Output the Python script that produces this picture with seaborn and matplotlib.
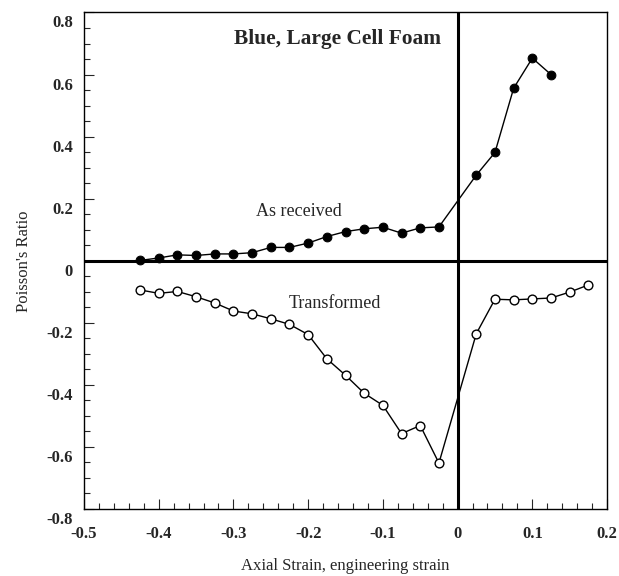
import matplotlib
matplotlib.use("Agg")
import matplotlib.pyplot as plt
import matplotlib.transforms as mtransforms
import seaborn as sns
import pandas as pd
from matplotlib.ticker import MultipleLocator

# As received (filled circles)
recv_x = [-0.425, -0.4, -0.375, -0.35, -0.325, -0.3, -0.275, -0.25, -0.225, -0.2,
          -0.175, -0.15, -0.125, -0.1, -0.075, -0.05, -0.025,
          0.025, 0.05, 0.075, 0.1, 0.125]
recv_y = [0.001, 0.009, 0.019, 0.017, 0.022, 0.022, 0.026, 0.043, 0.043, 0.057,
          0.078, 0.094, 0.103, 0.108, 0.089, 0.106, 0.109,
          0.276, 0.349, 0.556, 0.653, 0.600]

# Transformed (open circles)
trans_x = [-0.425, -0.4, -0.375, -0.35, -0.325, -0.3, -0.275, -0.25, -0.225, -0.2,
           -0.175, -0.15, -0.125, -0.1, -0.075, -0.05, -0.025,
           0.025, 0.05, 0.075, 0.1, 0.125, 0.15, 0.175]
trans_y = [-0.094, -0.105, -0.099, -0.116, -0.136, -0.162, -0.171, -0.187, -0.205, -0.238,
           -0.316, -0.369, -0.427, -0.466, -0.557, -0.531, -0.652,
           -0.235, -0.124, -0.126, -0.123, -0.120, -0.101, -0.078]

xticks = [-0.5, -0.4, -0.3, -0.2, -0.1, 0, 0.1, 0.2]
xtick_labels = ["-0.5", "-0.4", "-0.3", "-0.2", "-0.1", "0", "0.1", "0.2"]
yticks = [-0.8, -0.6, -0.4, -0.2, 0, 0.2, 0.4, 0.6, 0.8]
ytick_labels = ["-0.8", "-0.6", "-0.4", "-0.2", "0", "0.2", "0.4", "0.6", "0.8"]

sns.set_style("ticks")
plt.rcParams['font.family'] = ['Liberation Serif', 'DejaVu Serif']
plt.rcParams['axes.unicode_minus'] = False

fig = plt.figure(figsize=(6.19, 5.76), dpi=100)
ax = fig.add_axes([0.1357, 0.1163, 0.845, 0.862])

df_recv = pd.DataFrame({'x': recv_x, 'y': recv_y})
df_trans = pd.DataFrame({'x': trans_x, 'y': trans_y})

# thick zero lines
ax.axhline(0, color='black', lw=2.2, zorder=1)
ax.axvline(0, color='black', lw=2.2, zorder=1)

sns.lineplot(data=df_recv, x='x', y='y', ax=ax, sort=False, estimator=None,
             color='black', lw=1, marker='o', markersize=6.3,
             markerfacecolor='black', markeredgecolor='black', zorder=3)
sns.lineplot(data=df_trans, x='x', y='y', ax=ax, sort=False, estimator=None,
             color='black', lw=1, marker='o', markersize=6.3,
             markerfacecolor='white', markeredgecolor='black', markeredgewidth=1, zorder=3)

ax.set_xlim(-0.5, 0.2)
ax.set_ylim(-0.8, 0.8)
ax.set_xticks(xticks)
ax.set_xticklabels(xtick_labels, fontsize=12, fontweight='bold')
ax.set_yticks(yticks)
ax.set_yticklabels(ytick_labels, fontsize=12, fontweight='bold')
ax.xaxis.set_minor_locator(MultipleLocator(0.02))
ax.yaxis.set_minor_locator(MultipleLocator(0.05))
ax.tick_params(which='major', direction='in', length=7, width=0.8)
ax.tick_params(which='minor', direction='in', length=4, width=0.8)
ax.tick_params(axis='x', which='major', pad=12)
ax.tick_params(axis='y', which='major', pad=8)

# y tick labels sit a little below their ticks in the original
shift = mtransforms.ScaledTranslation(0, -0.09, fig.dpi_scale_trans)
for lbl in ax.get_yticklabels():
    lbl.set_transform(lbl.get_transform() + shift)

for s in ax.spines.values():
    s.set_linewidth(1)
    s.set_color('black')

ax.set_xlabel("Axial Strain, engineering strain", fontsize=12, labelpad=12)
ax.set_ylabel("Poisson's Ratio", fontsize=12, labelpad=10)

ax.text(-0.161, 0.713, "Blue, Large Cell Foam", fontsize=15.4, fontweight='bold',
        ha='center', va='center')
ax.text(-0.212, 0.158, "As received", fontsize=13, ha='center', va='center')
ax.text(-0.164, -0.139, "Transformed", fontsize=13, ha='center', va='center')

fig.savefig("out.png", dpi=100)
